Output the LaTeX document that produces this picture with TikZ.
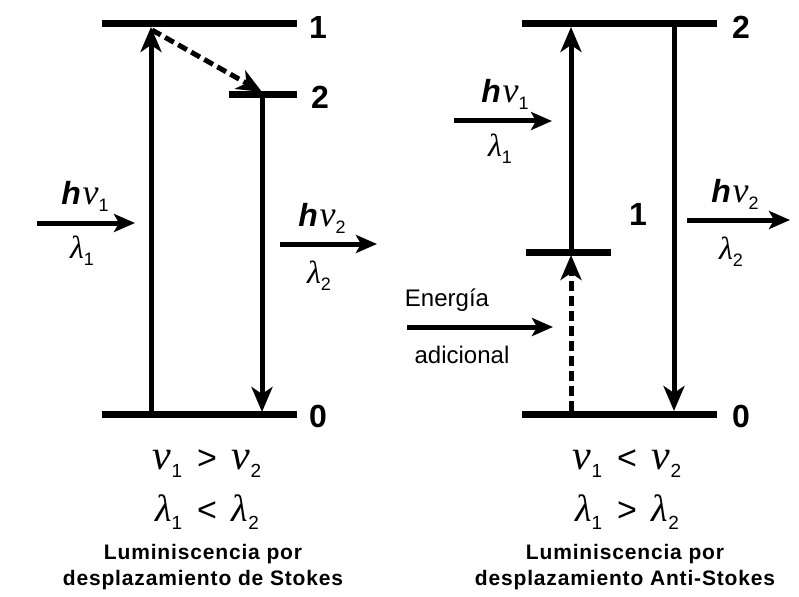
\documentclass[tikz,border=0pt]{standalone}
\usepackage{fontspec}
\setmainfont{Liberation Sans}
\newfontfamily\grkfont{Liberation Serif}
\usetikzlibrary{arrows.meta}
\newcommand\gk[1]{{\grkfont\itshape #1}}
\newcommand\sbx[3]{\raisebox{-#2}{\fontsize{#3}{#3}\selectfont #1}}
\newcommand\hnu[1]{{\fontsize{32}{32}\selectfont\bfseries\itshape h}\,{\fontsize{36}{36}\selectfont\gk{ν}}\sbx{#1}{7pt}{18}}
\newcommand\lam[1]{{\fontsize{32}{32}\selectfont\gk{λ}}\sbx{#1}{7pt}{18}}
\newcommand\eqnu[1]{{\fontsize{42}{42}\selectfont\gk{ν}}\sbx{#1}{8pt}{19}}
\newcommand\eqlam[1]{{\fontsize{38}{38}\selectfont\gk{λ}}\sbx{#1}{8pt}{19}}
\newcommand\rel[1]{\hspace{15pt}{\fontsize{34}{34}\selectfont #1}\hspace{15pt}}
\begin{document}
\begin{tikzpicture}[x=1pt,y=-1pt,
  level/.style={line width=7pt},
  trans/.style={line width=5pt,-{Stealth[length=25pt,width=21pt,inset=7pt]}},
  photon/.style={line width=5pt,-{Stealth[length=21pt,width=18pt,inset=5pt]}},
  dashtrans/.style={trans,dash pattern=on 10pt off 5pt},
  lvlab/.style={font=\fontsize{32}{32}\selectfont\bfseries,inner sep=0pt},
  lab/.style={inner sep=0pt},
  eqlab/.style={inner sep=0pt},
  title/.style={inner sep=0pt,align=center,font=\fontsize{21}{26}\selectfont\bfseries\addfontfeature{LetterSpace=4}},
  plain/.style={inner sep=0pt,font=\fontsize{24}{24}\selectfont}]
\useasboundingbox (0,0) rectangle (799,596);
% ---------- left: Stokes ----------
\coordinate (L1a) at (102,24); \coordinate (L1b) at (297,24);
\coordinate (L2a) at (229,95); \coordinate (L2b) at (297,95);
\coordinate (L0a) at (102,414); \coordinate (L0b) at (297,414);
\draw[level] (L1a) -- (L1b);
\draw[level] (L2a) -- (L2b);
\draw[level] (L0a) -- (L0b);
\node[lvlab] (n1L) at (318,27) {1};
\node[lvlab] (n2L) at (320,97) {2};
\node[lvlab] (n0L) at (318,416) {0};
\coordinate (Lup0) at (151,411); \coordinate (Lup1) at (151,27);
\draw[trans] (Lup0) -- (Lup1);
\coordinate (Ld0) at (152,30); \coordinate (Ld1) at (262,92);
\draw[dashtrans] (Ld0) -- (Ld1);
\coordinate (Ldn0) at (262,98); \coordinate (Ldn1) at (262,412);
\draw[trans] (Ldn0) -- (Ldn1);
\coordinate (Lin0) at (37,223); \coordinate (Lin1) at (135,223);
\draw[photon] (Lin0) -- (Lin1);
\node[lab] (hnuL1) at (85,196) {\hnu{1}};
\node[lab] (lamL1) at (82,251) {\lam{1}};
\coordinate (Lout0) at (280,244); \coordinate (Lout1) at (377,244);
\draw[photon] (Lout0) -- (Lout1);
\node[lab] (hnuL2) at (322,218) {\hnu{2}};
\node[lab] (lamL2) at (319,276) {\lam{2}};
\node[eqlab] (eqL1) at (207,464) {\eqnu{1}\rel{>}\eqnu{2}};
\node[eqlab] (eqL2) at (207,512) {\eqlam{1}\rel{<}\eqlam{2}};
\node[title] (tL) at (203,567) {Luminiscencia por\\desplazamiento de Stokes};
% ---------- right: Anti-Stokes ----------
\coordinate (R2a) at (522,24); \coordinate (R2b) at (717,24);
\coordinate (R1a) at (526,252); \coordinate (R1b) at (611,252);
\coordinate (R0a) at (522,414); \coordinate (R0b) at (717,414);
\draw[level] (R2a) -- (R2b);
\draw[level] (R1a) -- (R1b);
\draw[level] (R0a) -- (R0b);
\node[lvlab] (n2R) at (741,27) {2};
\node[lvlab] (n1R) at (638,214) {1};
\node[lvlab] (n0R) at (741,416) {0};
\coordinate (Rup0) at (571,250); \coordinate (Rup1) at (571,27);
\draw[trans] (Rup0) -- (Rup1);
\coordinate (Rd0) at (571,411); \coordinate (Rd1) at (571,255);
\draw[dashtrans] (Rd0) -- (Rd1);
\coordinate (Rdn0) at (674,27); \coordinate (Rdn1) at (674,411);
\draw[trans] (Rdn0) -- (Rdn1);
\coordinate (Rin0) at (454,121); \coordinate (Rin1) at (552,121);
\draw[photon] (Rin0) -- (Rin1);
\node[lab] (hnuR1) at (505,94) {\hnu{1}};
\node[lab] (lamR1) at (500,149) {\lam{1}};
\coordinate (Rout0) at (687,220); \coordinate (Rout1) at (790,220);
\draw[photon] (Rout0) -- (Rout1);
\node[lab] (hnuR2) at (735,194) {\hnu{2}};
\node[lab] (lamR2) at (731,252) {\lam{2}};
\coordinate (Ren0) at (407,327); \coordinate (Ren1) at (553,327);
\draw[photon] (Ren0) -- (Ren1);
\node[plain] (en1) at (447,300) {Energía};
\node[plain] (en2) at (462,355) {adicional};
\node[eqlab] (eqR1) at (627,464) {\eqnu{1}\rel{<}\eqnu{2}};
\node[eqlab] (eqR2) at (627,512) {\eqlam{1}\rel{>}\eqlam{2}};
\node[title] (tR) at (625,567) {Luminiscencia por\\desplazamiento Anti-Stokes};
\end{tikzpicture}
\end{document}
